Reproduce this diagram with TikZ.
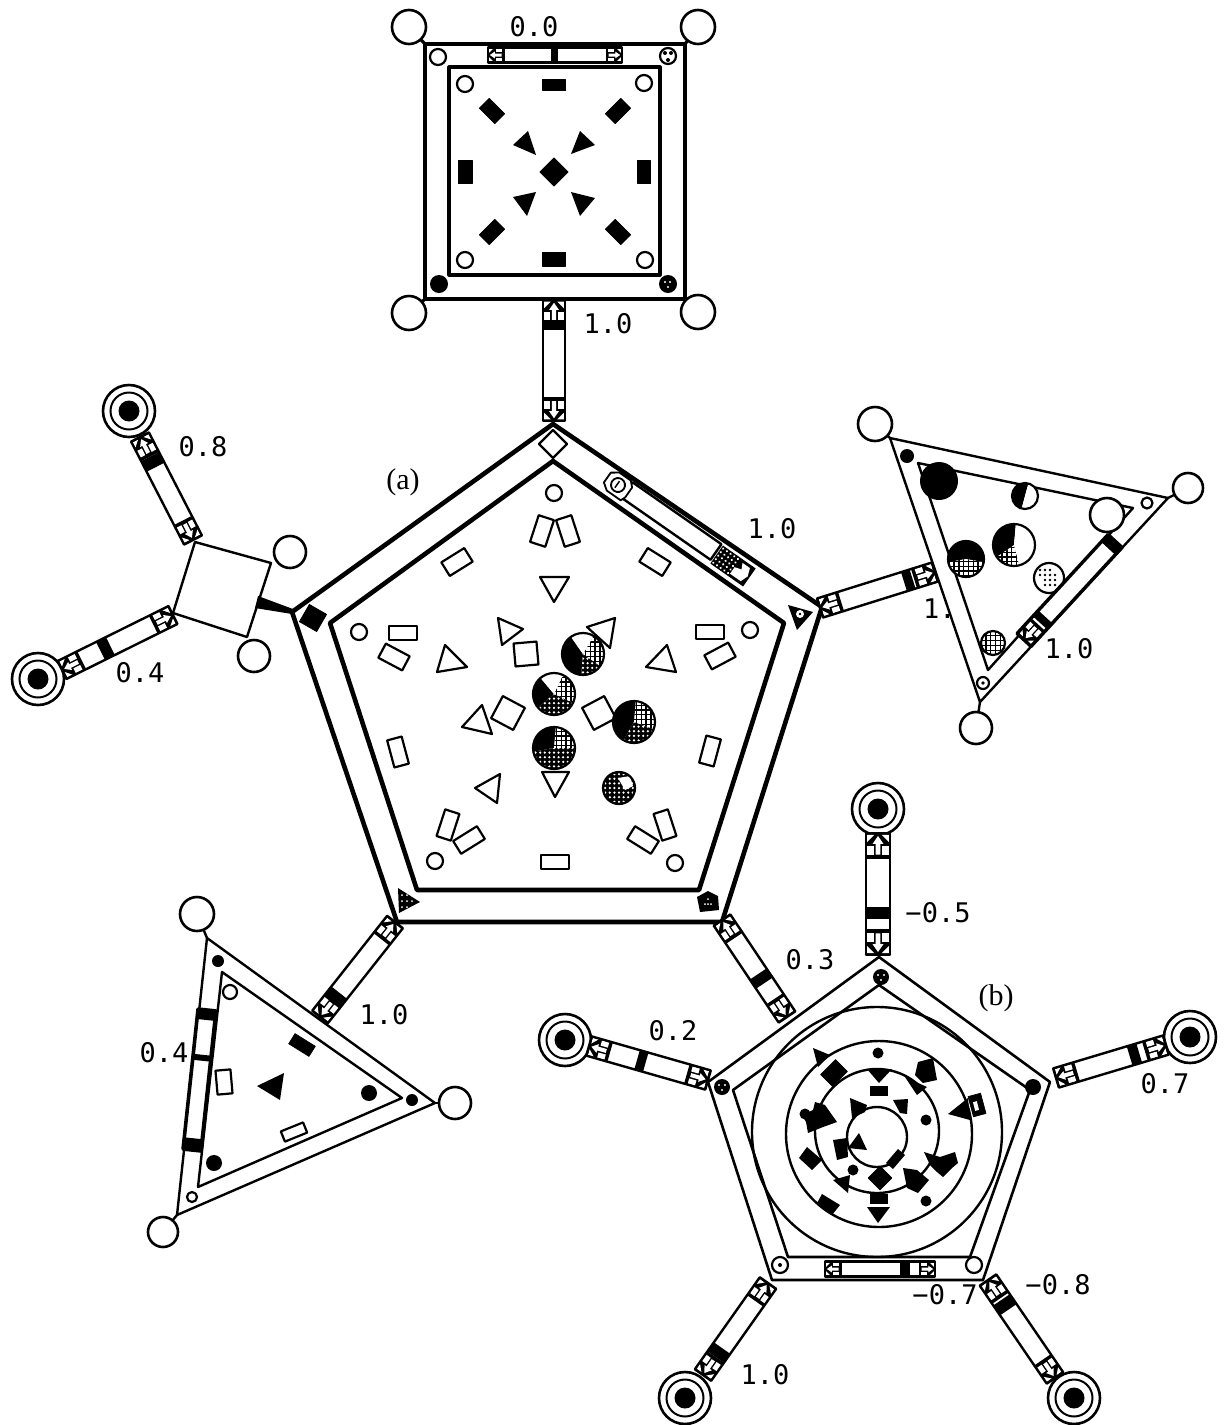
\documentclass[tikz,border=0pt]{standalone}
\usepackage{fontspec}
\setmainfont{Liberation Serif}
\newfontfamily\labfont{DejaVu Sans Mono}
\usetikzlibrary{calc}
\tikzset{
  lab/.style={font=\labfont\fontsize{27}{27}\selectfont,inner sep=0pt},
  figcap/.style={font=\fontsize{30}{30}\selectfont,inner sep=0pt},
  ol/.style={draw=black,line width=2.2pt,fill=white,line join=round},
  thk/.style={draw=black,line width=4.6pt,line join=round},
  med/.style={draw=black,line width=3.2pt,line join=round},
  thn/.style={draw=black,line width=2.4pt,line join=round},
  solid/.style={fill=black,draw=black,line width=.6pt,line join=round},
}
\def\barw{2.4}
% open / filled circles
\newcommand\oC[3]{\draw[ol] (#1,#2) circle[radius=#3];}
\newcommand\fC[3]{\fill[black] (#1,#2) circle[radius=#3];}
% rotated rectangle: cx,cy,len,wid,canvas angle,style
\newcommand\Rct[6]{\begin{scope}[shift={(#1,#2)},rotate=#5,x=1pt,y=1pt]
  \path[#6] (-#3/2,-#4/2) rectangle (#3/2,#4/2);\end{scope}}
% pie pieces of a ball
\newcommand\kindK[1]{\fill[black] (-#1,-#1) rectangle (#1,#1);}
\newcommand\kindW[1]{\fill[white] (-#1,-#1) rectangle (#1,#1);}
\newcommand\kindD[1]{\fill[black] (-#1,-#1) rectangle (#1,#1);
  \foreach \i in {-5,...,5}{\foreach \j in {-5,...,5}{\fill[white] (\i*4.6,\j*4.6) circle[radius=1.25];}}}
\newcommand\kindM[1]{\fill[black] (-#1,-#1) rectangle (#1,#1);
  \foreach \i in {-5,...,5}{\foreach \j in {-5,...,5}{\fill[white] (\i*4.8-1.7,\j*4.8-1.7) rectangle ++(3.5,3.5);}}}
\newcommand\pie[6]{\begin{scope}[shift={(#1,#2)},x=1pt,y=1pt]
  \begin{scope}\clip (0,0)--(#4:#3) arc[start angle=#4,end angle=#5,radius=#3]--cycle;
  \csname kind#6\endcsname{#3}\end{scope}\end{scope}}
\newcommand\rim[3]{\draw[black,line width=2.2pt] (#1,#2) circle[radius=#3];}
% terminal
\newcommand\term[3]{\coordinate (#1) at (#2,#3);
  \draw[black,line width=2.6pt,fill=white] (#1) circle[radius=26];
  \draw[black,line width=2pt] (#1) circle[radius=18.5];
  \fill[black] (#1) circle[radius=10.5];}
% connector bar drawn from named end to named end
\newcommand\conn[4][10]{%
  \path let \p1=($(#3)-(#2)$) in \pgfextra{\pgfmathsetmacro\tmpa{atan2(\y1,\x1)}\pgfmathsetmacro\tmpb{veclen(\x1,\y1)}\global\let\gang\tmpa\global\let\glen\tmpb};
  \begin{scope}[shift={(#2)},rotate=\gang,x=1pt,y=1pt]
  \def\hw{#1}
  \fill[white] (0,-#1) rectangle (\glen,#1);
  #4
  \draw[black,line width=\barw pt,line join=round] (0,-#1) rectangle (\glen,#1);
  \end{scope}}
\newcommand\capshape{%
  \fill[black] (0,-10) rectangle (22,10);
  \fill[white] (1.5,-9)--(1.5,-3)--(7.5,-9)--cycle;
  \fill[white] (1.5,9)--(1.5,3)--(7.5,9)--cycle;
  \fill[white] (2.5,0)--(9,-4.5)--(9,-2)--(18,-2)--(18,2)--(9,2)--(9,4.5)--cycle;
  \fill[white] (11,-9)--(18.5,-9)--(18.5,-3.6)--(11,-3.6)--cycle;
  \fill[white] (11,9)--(18.5,9)--(18.5,3.6)--(11,3.6)--cycle;}
\newcommand\capA{\begin{scope}[scale=\hw/10]\capshape\end{scope}}
\newcommand\capB{\begin{scope}[shift={(\glen,0)},xscale=-1,scale=\hw/10]\capshape\end{scope}}
\newcommand\band[2]{\fill[black] (#1,-\hw) rectangle (#1+#2,\hw);}
\begin{document}
\begin{tikzpicture}[x=1pt,y=-1pt]
\useasboundingbox (0,0) rectangle (1224,1425);
\fill[white] (0,0) rectangle (1224,1425);

% ---------- labels that sit under shapes
\node[lab,anchor=west] (l1dot) at (923,609) {1.};

% ---------- main pentagon (a)
\coordinate (mT) at (553,424); \coordinate (mR) at (822,607); \coordinate (mBR) at (722,922);
\coordinate (mBL) at (397,922); \coordinate (mL) at (292,612);
\coordinate (iT) at (553,461); \coordinate (iR) at (784,623); \coordinate (iBR) at (699,890);
\coordinate (iBL) at (417,890); \coordinate (iL) at (330,623);
\draw[thk] (mT)--(mR)--(mBR)--(mBL)--(mL)--cycle;
\draw[thk] (iT)--(iR)--(iBR)--(iBL)--(iL)--cycle;
\draw[ol] (553,430)--(567,444)--(553,458)--(539,444)--cycle;
% corner marks
\Rct{313}{618}{20}{20}{-30}{solid}
\fill[black] (788,605)--(813,612)--(797,630)--cycle;
\fill[white] (800,614) circle[radius=4];\fill[black] (800,614) circle[radius=1.4];
\begin{scope}\clip (398,888)--(420,902)--(399,913)--cycle;\fill[black] (390,880) rectangle (425,920);
\foreach \i/\j in {402/895,407/895,402/901,407/901,412/901,402/907,407/907}{\fill[white] (\i,\j) circle[radius=1];}\end{scope}
\fill[black] (697,897)--(708,891)--(718,896)--(719,910)--(700,912)--cycle;
\foreach \i/\j in {708/899,705/904,711/904,708/904}{\fill[white] (\i,\j) circle[radius=1];}
% top-right inner bar of main pentagon
\coordinate (mbA) at (627,490); \coordinate (mbB) at (716,552);
\conn[9.5]{mbA}{mbB}{}
\begin{scope}[shift={(618,485)},rotate=-35,x=1pt,y=1pt]
 \draw[ol,line width=1.8pt] (-13,-6)--(-6,-11)--(11,-11)--(13,-6)--(13,6)--(8,11)--(-6,11)--(-13,6)--cycle;
 \draw[black,line width=1.8pt] (0,0) circle[radius=7];\draw[black,line width=1.5pt] (-1,-4)--(-1,4);
\end{scope}
\begin{scope}[shift={(733,566)},rotate=-35,x=1pt,y=1pt]
 \fill[black] (-20,-11) rectangle (20,11);
 \foreach \i in {-4,...,0}{\foreach \j in {-2,...,2}{\fill[white] (\i*4.5,\j*4.3) circle[radius=1.2];}}
 \fill[white] (2,-8)--(15,-8)--(18,0)--(15,8)--(6,8)--(9,2)--(2,0)--cycle;
\end{scope}
% open circles
\oC{554}{493}{8}\oC{359}{632}{8}\oC{750}{630}{8}\oC{435}{861}{8}\oC{675}{863}{8}
% open rectangles
\Rct{542}{531}{28}{16}{72}{ol}\Rct{568}{531}{28}{16}{-72}{ol}
\Rct{457}{562}{27}{16}{32}{ol}\Rct{655}{562}{27}{16}{-32}{ol}
\Rct{403}{633}{28}{14}{0}{ol}\Rct{710}{632}{28}{14}{0}{ol}
\Rct{394}{657}{27}{16}{-28}{ol}\Rct{720}{656}{27}{16}{28}{ol}
\Rct{398}{752}{28}{15}{-75}{ol}\Rct{710}{751}{28}{15}{75}{ol}
\Rct{448}{825}{28}{15}{72}{ol}\Rct{469}{840}{28}{15}{32}{ol}
\Rct{643}{840}{28}{15}{-32}{ol}\Rct{665}{825}{28}{15}{-72}{ol}
\Rct{555}{862}{28}{14}{0}{ol}
% open triangles
\draw[ol] (540,577)--(569,577)--(554,602)--cycle;
\draw[ol] (498,618)--(523,629)--(502,645)--cycle;
\draw[ol] (445,645)--(467,667)--(437,672)--cycle;
\draw[ol] (667,645)--(646,667)--(676,672)--cycle;
\draw[ol] (482,705)--(462,727)--(492,734)--cycle;
\draw[ol] (500,774)--(475,788)--(497,803)--cycle;
% open squares
\Rct{526}{654}{23}{23}{5}{ol}
\Rct{508}{713}{25}{25}{-28}{ol}
\Rct{599}{713}{25}{25}{28}{ol}
% balls of (a)
\pie{583}{654}{21}{125}{265}{K}\pie{583}{654}{21}{265}{325}{D}\pie{583}{654}{21}{325}{420}{M}\pie{583}{654}{21}{60}{125}{W}\rim{583}{654}{21}
\draw[ol] (615,618)--(587,627)--(610,648)--cycle;
\pie{554}{694}{21}{130}{220}{K}\pie{554}{694}{21}{220}{335}{D}\pie{554}{694}{21}{335}{425}{M}\pie{554}{694}{21}{65}{130}{W}\rim{554}{694}{21}
\pie{634}{722}{21}{85}{240}{K}\pie{634}{722}{21}{240}{340}{D}\pie{634}{722}{21}{340}{445}{M}\rim{634}{722}{21}
\pie{554}{748}{21}{85}{190}{K}\pie{554}{748}{21}{190}{270}{D}\pie{554}{748}{21}{270}{360}{D}\pie{554}{748}{21}{0}{85}{M}\rim{554}{748}{21}
\draw[ol] (542,772)--(569,772)--(555,797)--cycle;
\pie{619}{788}{16}{0}{360}{D}\fill[white] (618,778)--(630,776)--(633,786)--(625,790)--cycle;\rim{619}{788}{16}

% ---------- top square
\coordinate (sTL) at (425,44);\coordinate (sTR) at (685,44);\coordinate (sBR) at (685,299);\coordinate (sBL) at (425,299);
\draw[med] (sTL)--(sTR)--(sBR)--(sBL)--cycle;
\draw[med] (449,67)--(660,67)--(660,275)--(449,275)--cycle;
\coordinate (cTL) at (409,27);\coordinate (cTR) at (698,27);\coordinate (cBL) at (409,313);\coordinate (cBR) at (698,312);
\draw[med] (cTL)--(sTL);\draw[med] (cTR)--(sTR);\draw[med] (cBL)--(sBL);\draw[med] (cBR)--(sBR);
\foreach \c in {cTL,cTR,cBL,cBR}{\draw[ol,line width=2.6pt] (\c) circle[radius=17];}
\oC{438}{57}{8}
\oC{668}{56}{8}\foreach \i/\j in {665/53,671/53,668/60}{\fill[black] (\i,\j) circle[radius=2];}
\fC{439}{284}{9}
\fC{668}{284}{9}\foreach \i/\j in {665/282,670/282,668/287}{\fill[white] (\i,\j) circle[radius=1.1];}
\oC{465}{84}{8}\oC{644}{83}{8}\oC{465}{260}{8}\oC{645}{260}{8}
\Rct{554}{85}{23}{11}{0}{solid}\Rct{554}{259}{23}{14}{0}{solid}
\Rct{465}{172}{14}{23}{0}{solid}\Rct{644}{172}{13}{23}{0}{solid}
\Rct{492}{111}{22}{14}{-45}{solid}\Rct{618}{111}{22}{14}{45}{solid}
\Rct{492}{232}{22}{14}{45}{solid}\Rct{618}{232}{22}{14}{-45}{solid}
\Rct{554}{172}{20}{20}{45}{solid}
\fill[black] (513,145)--(528,131)--(536,155)--cycle;
\fill[black] (595,145)--(580,131)--(571,154)--cycle;
\fill[black] (513,197)--(536,192)--(527,216)--cycle;
\fill[black] (595,198)--(571,192)--(580,216)--cycle;
\coordinate (tbA) at (488,55);\coordinate (tbB) at (622,55);
\conn[7.5]{tbA}{tbB}{\capA\capB\band{63}{7}}
\coordinate (lnkA) at (554,300);\coordinate (lnkB) at (554,421);
\conn[11]{lnkA}{lnkB}{\capA\capB\band{22}{8}}

% ---------- left square
\coordinate (qTL) at (195,542);\coordinate (qTR) at (271,563);\coordinate (qBR) at (247,637);\coordinate (qBL) at (173,613);
\draw[thn] (qTL)--(qTR)--(qBR)--(qBL)--cycle;
\coordinate (qc1) at (290,552);\coordinate (qc2) at (254,656);
\draw[ol,line width=2.6pt] (qc1) circle[radius=16];
\draw[ol,line width=2.6pt] (qc2) circle[radius=16];
\fill[black] (258,596)--(293,609)--(292,614)--(255,608)--cycle;
\term{tq1}{129}{411}\term{tq2}{38}{679}
\coordinate (q1a) at (140,437);\coordinate (q1b) at (193,540);
\conn{q1a}{q1b}{\capA\capB\band{22}{12}}
\coordinate (q2a) at (62,670);\coordinate (q2b) at (173,615);
\conn{q2a}{q2b}{\capA\capB\band{43}{11}}

% ---------- right triangle
\coordinate (rT) at (890,438);\coordinate (rR) at (1168,498);\coordinate (rB) at (980,702);
\coordinate (riT) at (918,463);\coordinate (riR) at (1133,508);\coordinate (riB) at (988,670);
\fill[white] (rT)--(rR)--(rB)--cycle;
\draw[thn] (rT)--(rR)--(rB)--cycle;
\draw[thn] (riT)--(riR)--(riB)--cycle;
\coordinate (rc1) at (875,424);\coordinate (rc2) at (1188,488);\coordinate (rc3) at (976,728);
\draw[thn] (rc1)--(rT);\draw[thn] (rc2)--(rR);\draw[thn] (rc3)--(rB);
\draw[ol,line width=2.6pt] (rc1) circle[radius=17];
\draw[ol,line width=2.6pt] (rc2) circle[radius=15];
\draw[ol,line width=2.6pt] (rc3) circle[radius=16];
\draw[ol,line width=2.6pt] (1107,515) circle[radius=17];
\fC{907}{456}{7}\oC{1147}{503}{5.5}\oC{983}{683}{6}\fC{983}{683}{1.8}
\fC{939}{481}{19}
\pie{1025}{496}{13}{75}{255}{K}\pie{1025}{496}{13}{255}{435}{W}\rim{1025}{496}{13}
\pie{1014}{545}{21}{85}{215}{K}\pie{1014}{545}{21}{215}{285}{M}\pie{1014}{545}{21}{285}{445}{W}\rim{1014}{545}{21}
\pie{966}{559}{18}{-10}{190}{K}\pie{966}{559}{18}{190}{350}{M}\rim{966}{559}{18}
\pie{1049}{578}{15}{0}{360}{M}\fill[white] (1049,578) circle[radius=15];\foreach \i/\j in {1040/570,1045/570,1050/570,1040/575,1045/575,1050/575,1055/575,1045/580,1050/580,1055/580,1045/585,1050/585,1055/585}{\fill[black] (\i,\j) circle[radius=1.3];}\rim{1049}{578}{15}
\pie{993}{643}{12}{0}{360}{M}\rim{993}{643}{12}
\coordinate (rbA) at (1115,541);\coordinate (rbB) at (1024,640);
\def\barw{3.4}
\conn[9.5]{rbA}{rbB}{\capB\band{0}{10}\band{103}{8}}
\def\barw{2.4}
\coordinate (rlA) at (820,608);\coordinate (rlB) at (935,572);
\conn{rlA}{rlB}{\capA\capB\band{88}{9}}

% ---------- lower-left triangle
\coordinate (lT) at (207,938);\coordinate (lR) at (435,1103);\coordinate (lB) at (177,1215);
\coordinate (liT) at (222,972);\coordinate (liR) at (402,1098);\coordinate (liB) at (198,1187);
\draw[thn] (lT)--(lR)--(lB)--cycle;
\draw[thn] (liT)--(liR)--(liB)--cycle;
\coordinate (lc1) at (197,914);\coordinate (lc2) at (455,1103);\coordinate (lc3) at (163,1232);
\draw[thn] (lc1)--(lT);\draw[thn] (lc2)--(lR);\draw[thn] (lc3)--(lB);
\draw[ol,line width=2.6pt] (lc1) circle[radius=17];
\draw[ol,line width=2.6pt] (lc2) circle[radius=16];
\draw[ol,line width=2.6pt] (lc3) circle[radius=15];
\fC{218}{961}{6}\fC{412}{1100}{6}\oC{230}{992}{7}\oC{192}{1197}{5}
\fC{369}{1093}{8}\fC{214}{1163}{8}
\Rct{302}{1045}{24}{12}{-32}{solid}
\Rct{224}{1082}{24}{15}{-85}{ol}
\Rct{294}{1132}{24}{11}{22}{ol}
\fill[black] (257,1086)--(284,1073)--(280,1100)--cycle;
\coordinate (lbA) at (207,1010);\coordinate (lbB) at (192,1150);
\def\barw{3.6}
\conn[9]{lbA}{lbB}{\band{0}{10}\band{45}{6}\band{129}{11}}
\def\barw{2.4}
\coordinate (llA) at (395,922);\coordinate (llB) at (320,1017);
\conn{llA}{llB}{\capA\capB\band{90}{10}}

% ---------- pentagon (b)
\coordinate (bT) at (879,957);\coordinate (bR) at (1050,1082);\coordinate (bBR) at (983,1280);
\coordinate (bBL) at (772,1280);\coordinate (bL) at (708,1082);
\coordinate (biT) at (879,985);\coordinate (biR) at (1030,1090);\coordinate (biBR) at (970,1257);
\coordinate (biBL) at (788,1257);\coordinate (biL) at (733,1090);
\draw[med,line width=2.6pt] (bT)--(bR)--(bBR)--(bBL)--(bL)--cycle;
\draw[med,line width=2.6pt] (biT)--(biR)--(biBR)--(biBL)--(biL)--cycle;
\draw[thn] (877,1132) circle[radius=125];
\draw[thn] (879,1134) circle[radius=93];
\draw[thn] (877,1131) circle[radius=62];
\draw[thn] (877,1137) circle[radius=30];
\fC{881}{977}{8}\foreach \i/\j in {878/975,884/975,881/980}{\fill[white] (\i,\j) circle[radius=1.1];}
\fC{722}{1087}{8}\foreach \i/\j in {719/1085,725/1085,722/1090}{\fill[white] (\i,\j) circle[radius=1.1];}
\fC{1033}{1087}{8}
\oC{780}{1265}{8}\fC{780}{1265}{2}\oC{974}{1265}{8}
\fC{878}{1053}{5.5}\fC{926}{1120}{5.5}\fC{926}{1201}{5.5}\fC{853}{1170}{5.5}\fC{805}{1114}{5.5}
\fill[black] (813,1048)--(830,1055)--(818,1067)--cycle;
\fill[black] (867,1069)--(892,1069)--(879,1083)--cycle;
\fill[black] (870,1086) rectangle (888,1096);
\Rct{834}{1073}{21}{17}{45}{solid}
\fill[black] (918,1062)--(933,1058)--(937,1080)--(923,1083)--(915,1075)--cycle;
\fill[black] (905,1077)--(927,1087)--(917,1095)--cycle;
\fill[black] (948,1114)--(968,1098)--(970,1120)--cycle;
\Rct{977}{1105}{21}{13}{-75}{solid}\Rct{976}{1106}{9}{4}{-75}{fill=white}
\fill[black] (815,1102)--(825,1105)--(837,1122)--(823,1127)--(808,1133)--(806,1122)--(802,1115)--(813,1110)--cycle;
\fill[black] (807,1147)--(822,1160)--(812,1170)--(799,1158)--cycle;
\fill[black] (859,1133)--(867,1150)--(848,1148)--cycle;
\fill[black] (833,1140)--(847,1138)--(848,1157)--(837,1160)--cycle;
\fill[black] (850,1098)--(867,1105)--(865,1112)--(852,1118)--cycle;
\fill[black] (893,1100)--(908,1099)--(907,1114)--(900,1113)--cycle;
\fill[black] (898,1149)--(905,1155)--(893,1169)--(886,1163)--cycle;
\fill[black] (924,1152)--(940,1157)--(955,1152)--(958,1163)--(952,1168)--(943,1177)--(937,1172)--(930,1165)--cycle;
\Rct{880}{1178}{17}{17}{45}{solid}
\fill[black] (903,1168)--(917,1170)--(929,1180)--(918,1193)--(907,1188)--cycle;
\fill[black] (833,1180)--(850,1175)--(848,1193)--cycle;
\fill[black] (870,1194) rectangle (888,1204);
\fill[black] (867,1207)--(890,1207)--(878,1223)--cycle;
\fill[black] (822,1194)--(840,1205)--(832,1215)--(817,1203)--cycle;
\coordinate (bbA) at (825,1269);\coordinate (bbB) at (935,1269);
\conn[7.5]{bbA}{bbB}{\capA\capB\band{75}{10}}
% links of (b)
\coordinate (l2a) at (722,920);\coordinate (l2b) at (787,1017);
\conn{l2a}{l2b}{\capA\capB\band{65}{11}}
\term{tb1}{878}{809}\term{tb2}{1190}{1037}\term{tb3}{565}{1040}\term{tb4}{1074}{1398}\term{tb5}{685}{1398}
\coordinate (b1a) at (878,833);\coordinate (b1b) at (878,955);
\conn[12]{b1a}{b1b}{\capA\capB\band{74}{12}}
\coordinate (b2a) at (1166,1045);\coordinate (b2b) at (1056,1078);
\conn{b2a}{b2b}{\capA\capB\band{28}{10}}
\coordinate (b3a) at (589,1046);\coordinate (b3b) at (708,1080);
\conn{b3a}{b3b}{\capA\capB\band{50}{9}}
\coordinate (b4a) at (988,1280);\coordinate (b4b) at (1055,1378);
\conn{b4a}{b4b}{\capA\capB\band{24}{12}}
\coordinate (b5a) at (703,1375);\coordinate (b5b) at (768,1283);
\conn{b5a}{b5b}{\capA\capB\band{22}{11}}

% ---------- labels
\node[lab] (n1) at (534,27) {0.0};
\node[lab] (n2) at (608,324) {1.0};
\node[lab] (n3) at (203,447) {0.8};
\node[lab] (n4) at (140,673) {0.4};
\node[lab] (n5) at (772,529) {1.0};
\node[lab] (n6) at (1069,649) {1.0};
\node[lab] (n7) at (384,1015) {1.0};
\node[lab] (n8) at (164,1053) {0.4};
\node[lab] (n9) at (938,913) {−0.5};
\node[lab] (n10) at (810,960) {0.3};
\node[lab] (n11) at (673,1031) {0.2};
\node[lab] (n12) at (1165,1084) {0.7};
\node[lab] (n13) at (945,1295) {−0.7};
\node[lab] (n14) at (1058,1285) {−0.8};
\node[lab] (n15) at (765,1375) {1.0};
\node[figcap] (ca) at (403,482) {(a)};
\node[figcap] (cb) at (996,998) {(b)};
\end{tikzpicture}
\end{document}
